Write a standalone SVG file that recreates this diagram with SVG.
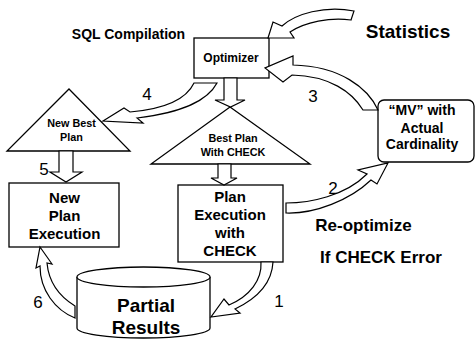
<svg xmlns="http://www.w3.org/2000/svg" width="476" height="339" viewBox="0 0 476 339">
  <style>
    .box { fill: #fff; stroke: #000; stroke-width: 1.3; }
    .arr { fill: #fff; stroke: #000; stroke-width: 1.2; stroke-linejoin: miter; }
    .t { font-family: "Liberation Sans", Arial, sans-serif; font-weight: bold; text-anchor: middle; fill: #000; }
    .n { font-family: "Liberation Sans", Arial, sans-serif; font-size: 17px; text-anchor: middle; fill: #000; }
  </style>
  <rect width="476" height="339" fill="#fff"/>

  <!-- free-standing captions -->
  <text class="t" x="128.5" y="39" font-size="14">SQL Compilation</text>
  <text class="t" x="408" y="38" font-size="19">Statistics</text>
  <text class="t" x="363.5" y="231" font-size="17">Re-optimize</text>
  <text class="t" x="381" y="263" font-size="17">If CHECK Error</text>

  <g id="optimizer">
    <rect class="box" x="194" y="38" width="75" height="40"/>
    <text class="t" x="231" y="62" font-size="12">Optimizer</text>
  </g>

  <g id="best-plan">
    <polygon class="box" points="230,107 310,164 151,164"/>
    <text class="t" x="233" y="142" font-size="10.8">Best Plan</text>
    <text class="t" x="233" y="156" font-size="10.8">With CHECK</text>
  </g>

  <g id="new-best-plan">
    <polygon class="box" points="69,89 130,151 7,151"/>
    <text class="t" x="71.5" y="127" font-size="10.8">New Best</text>
    <text class="t" x="71.5" y="141" font-size="10.8">Plan</text>
  </g>

  <g id="plan-execution">
    <rect class="box" x="178" y="185" width="105" height="77"/>
    <text class="t" x="230" y="202" font-size="15">Plan</text>
    <text class="t" x="230" y="220" font-size="15">Execution</text>
    <text class="t" x="230" y="238" font-size="15">with</text>
    <text class="t" x="230" y="256" font-size="15">CHECK</text>
  </g>

  <g id="new-plan-execution">
    <rect class="box" x="9" y="183" width="110" height="64"/>
    <text class="t" x="64.5" y="203" font-size="15">New</text>
    <text class="t" x="64.5" y="221" font-size="15">Plan</text>
    <text class="t" x="64.5" y="239" font-size="15">Execution</text>
  </g>

  <g id="mv-cardinality">
    <rect class="box" x="378" y="100" width="96" height="62" rx="6"/>
    <text class="t" x="422" y="115" font-size="14">“MV” with</text>
    <text class="t" x="422" y="133" font-size="14">Actual</text>
    <text class="t" x="422" y="149" font-size="14">Cardinality</text>
  </g>

  <g id="partial-results">
    <path class="box" d="M77,277 L77,328 A66.5,10 0 0 0 210,328 L210,277"/>
    <ellipse class="box" cx="143.5" cy="277" rx="66.5" ry="10"/>
    <text class="t" x="146" y="312" font-size="19">Partial</text>
    <text class="t" x="146" y="334" font-size="19">Results</text>
  </g>

  <g id="connectors">
    <!-- straight block arrows -->
    <path class="arr" d="M224,78 L224,100 L215,100 L230.5,107 L245,100 L237,100 L237,78 Z"/>
    <path class="arr" d="M218,164 L218,178 L211,178 L224,185 L237,178 L231,178 L231,164 Z"/>
    <path class="arr" d="M59,151 L59,172 L50,172 L66,182 L82,172 L73,172 L73,151 Z"/>
    <!-- curved block arrows -->
    <path class="arr" d="M268,38 L273,22 L282,26 C295,14 325,5 354,11 L351,20 C330,17 305,22 290,32 L294,38 Z"/>
    <path class="arr" d="M378,110 C368,88 340,66 293,65 L293,56 L265,68 L283,82 L292,75 C330,76 352,92 363,110 Z"/>
    <path class="arr" d="M194,83 C186,100 165,109 130,112 L124,108 L103,121 L143,123 L137,118 C185,112 208,100 217,83 Z"/>
    <path class="arr" d="M286,203 C310,203 345,196 367,174 L358,170 L388,163 L377,184 L371,180 C350,200 315,214 286,213 Z"/>
    <path class="arr" d="M261,262 C262,280 250,296 229,305 L224,299 L211,317 L240,313 L235,309 C258,298 272,282 273,262 Z"/>
    <path class="arr" d="M40,247 L52,264 L47,263 C49,285 62,298 75,306 L75,318 C55,310 40,290 40,266 L36,268 Z"/>
    <!-- step numbers -->
    <text class="n" x="279" y="307">1</text>
    <text class="n" x="333" y="194">2</text>
    <text class="n" x="313" y="102">3</text>
    <text class="n" x="147" y="100">4</text>
    <text class="n" x="44" y="175">5</text>
    <text class="n" x="38" y="308">6</text>
  </g>
</svg>
